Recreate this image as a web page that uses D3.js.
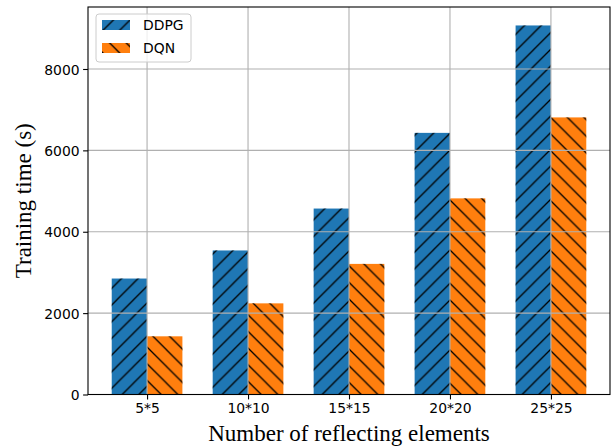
<!DOCTYPE html>
<html><head><meta charset="utf-8">
<script src="https://cdn.jsdelivr.net/npm/d3@7/dist/d3.min.js"></script>
<style>body{margin:0;background:#fff}</style>
</head><body>
<svg id="c" width="616" height="446"></svg>
<script>
const categories = ["5*5","10*10","15*15","20*20","25*25"];
const ddpg = [2850, 3540, 4570, 6430, 9070];
const dqn  = [1430, 2240, 3210, 4820, 6810];
const yTicks = [0, 2000, 4000, 6000, 8000];
const seriesNames = ["DDPG","DQN"];
const colors = ["#1f77b4","#ff7f0e"];

const svg = d3.select("#c");
const L=88, R=610, T=7, B=394.5;
const barW = 0.35;
const x = d3.scaleLinear().domain([-0.585, 4.585]).range([L, R]);
const y = d3.scaleLinear().domain([0, d3.max(ddpg)*1.05]).range([B, T]);

const defs = svg.append("defs");
const s = 100/6;
function hatch(id, dir){
  const p = defs.append("pattern").attr("id", id).attr("patternUnits","userSpaceOnUse")
    .attr("width", s).attr("height", s);
  const d = dir === "/" ?
    `M0,${s} L${s},0 M${-s/4},${s/4} L${s/4},${-s/4} M${3*s/4},${5*s/4} L${5*s/4},${3*s/4}` :
    `M0,0 L${s},${s} M${-s/4},${3*s/4} L${s/4},${5*s/4} M${3*s/4},${-s/4} L${5*s/4},${s/4}`;
  p.append("path").attr("d", d).attr("stroke","#000").attr("stroke-width",1.3).attr("fill","none");
}
hatch("h0","/"); hatch("h1","\\");

const series = [ddpg, dqn];
series.forEach((vals, si) => {
  const off = si === 0 ? -barW/2 : barW/2;
  const g = svg.append("g");
  g.selectAll("rect.b").data(vals).enter().append("rect")
    .attr("x", (d,i) => x(i + off - barW/2))
    .attr("width", (d,i) => x(i + off + barW/2) - x(i + off - barW/2))
    .attr("y", d => y(d)).attr("height", d => B - y(d))
    .attr("fill", colors[si]);
  g.selectAll("rect.h").data(vals).enter().append("rect")
    .attr("x", (d,i) => x(i + off - barW/2))
    .attr("width", (d,i) => x(i + off + barW/2) - x(i + off - barW/2))
    .attr("y", d => y(d)).attr("height", d => B - y(d))
    .attr("fill", `url(#h${si})`);
});

// grid on top
const grid = svg.append("g").attr("stroke","#b0b0b0").attr("stroke-width",1.1);
categories.forEach((c,i) => grid.append("line").attr("x1",x(i)).attr("x2",x(i)).attr("y1",T).attr("y2",B));
yTicks.forEach(t => grid.append("line").attr("x1",L).attr("x2",R).attr("y1",y(t)).attr("y2",y(t)));

// axes
const xAxis = d3.axisBottom(x).tickValues(d3.range(categories.length)).tickFormat(i => categories[i]).tickSizeOuter(0).tickSize(4.9).tickPadding(4);
const yAxis = d3.axisLeft(y).tickValues(yTicks).tickFormat(d3.format("d")).tickSizeOuter(0).tickSize(4.9).tickPadding(3.5);
const gx = svg.append("g").attr("transform",`translate(0,${B})`).call(xAxis);
const gy = svg.append("g").attr("transform",`translate(${L},0)`).call(yAxis);
[gx, gy].forEach(g => {
  g.select(".domain").remove();
  g.selectAll("line").attr("stroke","#000").attr("stroke-width",1.1);
  g.selectAll("text").attr("font-family","DejaVu Sans").attr("font-size","13.9px").attr("fill","#000");
});
gx.selectAll("text").attr("dy","0.71em");
gy.selectAll("text").attr("dy","0.36em");

svg.append("rect").attr("x",L).attr("y",T).attr("width",R-L).attr("height",B-T)
  .attr("fill","none").attr("stroke","#000").attr("stroke-width",1.1);

// labels
svg.append("text").attr("x",(L+R)/2).attr("y",441).attr("text-anchor","middle")
  .attr("font-family","Liberation Serif").attr("font-size","23px").text("Number of reflecting elements");
svg.append("text").attr("transform",`translate(31,${(T+B)/2}) rotate(-90)`).attr("text-anchor","middle")
  .attr("font-family","Liberation Serif").attr("font-size","23px").text("Training time (s)");

// legend
const lg = svg.append("g");
lg.append("rect").attr("x",96).attr("y",14).attr("width",95).attr("height",48).attr("rx",3)
  .attr("fill","#fff").attr("fill-opacity",0.8).attr("stroke","#cccccc").attr("stroke-width",1);
seriesNames.forEach((n,i) => {
  const yy = 20 + i*23;
  lg.append("rect").attr("x",102).attr("y",yy).attr("width",28).attr("height",10).attr("fill",colors[i]);
  lg.append("rect").attr("x",102).attr("y",yy).attr("width",28).attr("height",10).attr("fill",`url(#h${i})`);
  lg.append("text").attr("x",143).attr("y",yy+10).attr("font-family","DejaVu Sans").attr("font-size","13.9px").text(n);
});
</script>
</body></html>
